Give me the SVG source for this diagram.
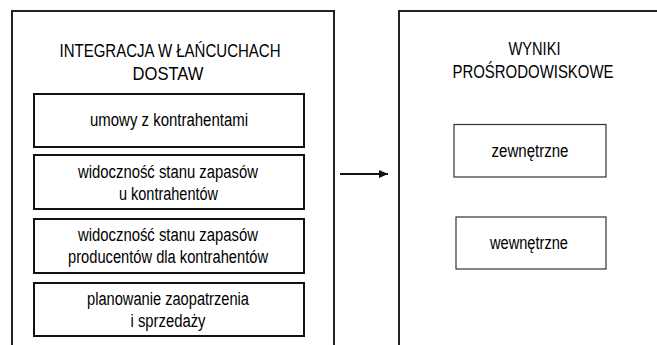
<svg xmlns="http://www.w3.org/2000/svg" width="657" height="345" viewBox="0 0 657 345">
<style>
  .outer{fill:none;stroke:#222;stroke-width:2}
  .box{fill:#fff;stroke:#111;stroke-width:2}
  .box2{fill:#fff;stroke:#333;stroke-width:1.2}
  text{font-family:"Liberation Sans",Arial,sans-serif;font-size:18px;fill:#000;text-anchor:middle}
</style>
<defs>
  <marker id="ah" markerWidth="10" markerHeight="10" refX="9" refY="4" orient="auto" markerUnits="userSpaceOnUse">
    <path d="M0,0 L9,4 L0,8 Z" fill="#111"/>
  </marker>
</defs>
<rect width="657" height="345" fill="#fff"/>
<g id="integracja">
  <path class="outer" d="M12,346 V11 H334 V346"/>
  <text x="170" y="57" textLength="221" lengthAdjust="spacingAndGlyphs">INTEGRACJA W ŁAŃCUCHACH</text>
  <text x="168" y="80" textLength="71" lengthAdjust="spacingAndGlyphs">DOSTAW</text>
</g>
<g id="umowy">
  <rect class="box" x="34" y="94" width="270" height="53"/>
  <text x="169" y="126" textLength="158" lengthAdjust="spacingAndGlyphs">umowy z kontrahentami</text>
</g>
<g id="widocznosc1">
  <rect class="box" x="34" y="155" width="270" height="54"/>
  <text x="168" y="178" textLength="180" lengthAdjust="spacingAndGlyphs">widoczność stanu zapasów</text>
  <text x="168.5" y="200" textLength="99" lengthAdjust="spacingAndGlyphs">u kontrahentów</text>
</g>
<g id="widocznosc2">
  <rect class="box" x="34" y="219" width="270" height="54"/>
  <text x="168" y="241" textLength="180" lengthAdjust="spacingAndGlyphs">widoczność stanu zapasów</text>
  <text x="168" y="263" textLength="200" lengthAdjust="spacingAndGlyphs">producentów dla kontrahentów</text>
</g>
<g id="planowanie">
  <rect class="box" x="34" y="283" width="270" height="53"/>
  <text x="168" y="305" textLength="162" lengthAdjust="spacingAndGlyphs">planowanie zaopatrzenia</text>
  <text x="168" y="327" textLength="75" lengthAdjust="spacingAndGlyphs">i sprzedaży</text>
</g>
<g id="wyniki">
  <path class="outer" d="M399,346 V11 H658"/>
  <text x="534.5" y="55" textLength="52" lengthAdjust="spacingAndGlyphs">WYNIKI</text>
  <text x="533" y="78" textLength="161" lengthAdjust="spacingAndGlyphs">PROŚRODOWISKOWE</text>
</g>
<g id="zewnetrzne">
  <rect class="box2" x="454" y="124.5" width="152" height="52.5"/>
  <text x="530" y="157" textLength="77" lengthAdjust="spacingAndGlyphs">zewnętrzne</text>
</g>
<g id="wewnetrzne">
  <rect class="box2" x="456" y="217" width="150" height="52"/>
  <text x="529" y="249" textLength="78" lengthAdjust="spacingAndGlyphs">wewnętrzne</text>
</g>
<g id="connectors">
  <line x1="340" y1="174" x2="388" y2="174" stroke="#111" stroke-width="2" marker-end="url(#ah)"/>
</g>
</svg>
